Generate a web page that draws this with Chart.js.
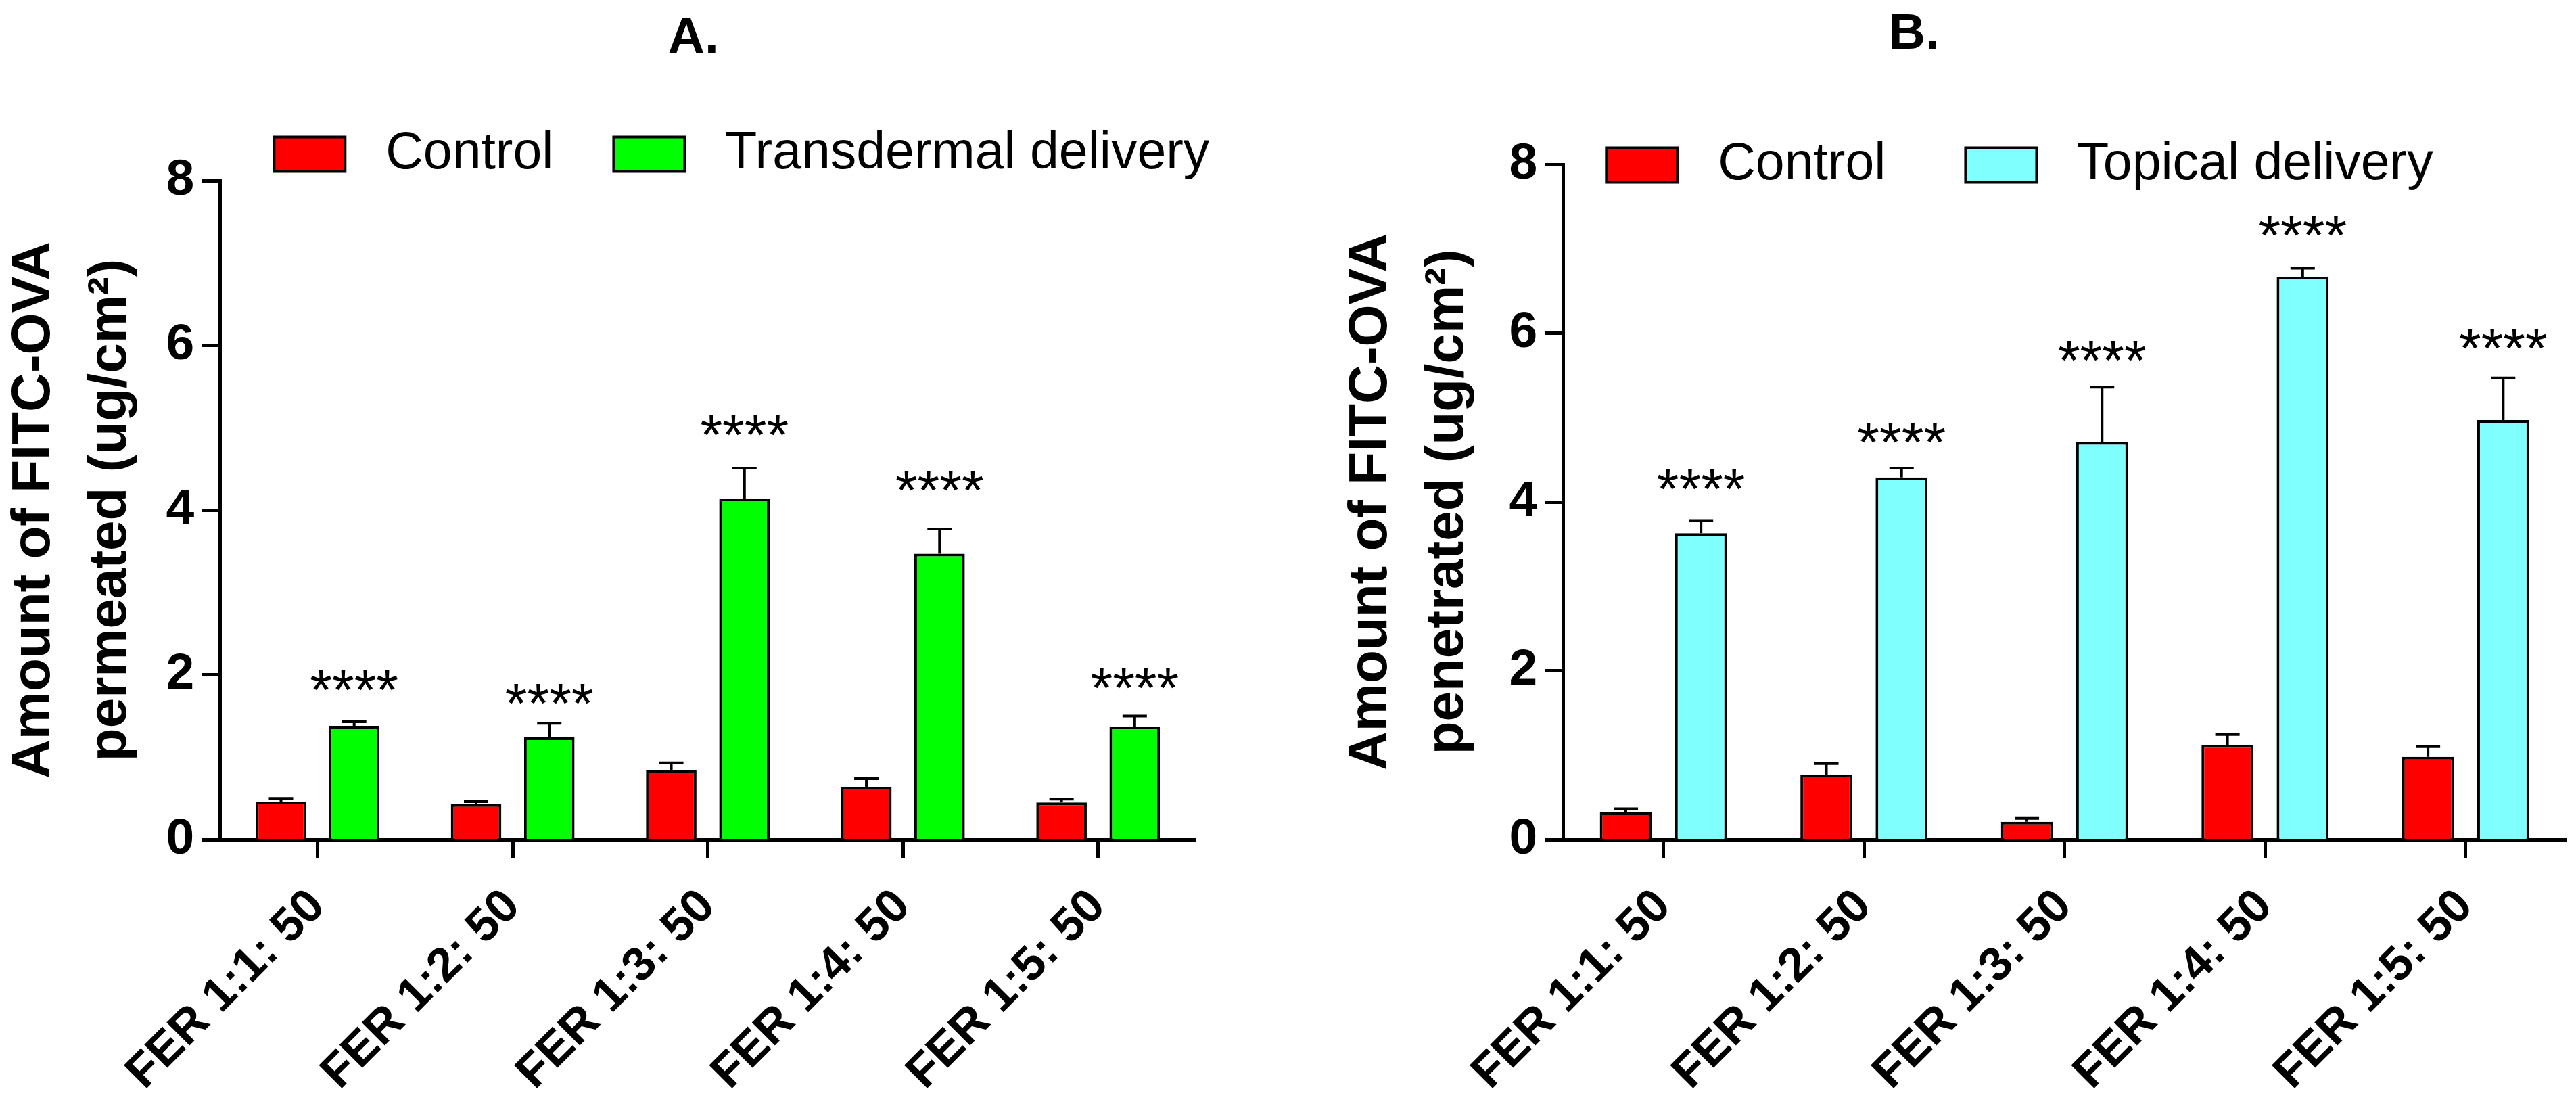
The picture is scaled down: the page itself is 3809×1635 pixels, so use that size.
<!DOCTYPE html>
<html>
<head>
<meta charset="utf-8">
<script src="https://cdn.jsdelivr.net/npm/chart.js@4.4.1/dist/chart.umd.min.js"></script>
<style>
  html, body { margin: 0; padding: 0; background: #fff; }
  #page { position: relative; width: 3809px; height: 1635px; overflow: hidden; background: #fff; }
  .panel { position: absolute; top: 0; height: 1672px; }
  #panelA { left: -5px; width: 2036px; }
  #panelB { left: 1831px; width: 1978px; }
</style>
</head>
<body>
<div id="page">
  <div class="panel" id="panelA"><canvas id="chartA"></canvas></div>
  <div class="panel" id="panelB"><canvas id="chartB"></canvas></div>
</div>
<script>
// values (ug/cm2)
const categories = ['FER 1:1: 50', 'FER 1:2: 50', 'FER 1:3: 50', 'FER 1:4: 50', 'FER 1:5: 50'];
const yTicks = [0, 2, 4, 6, 8];

// A. permeated
const controlA = [0.46, 0.43, 0.84, 0.64, 0.45];
const controlErrA = [0.04, 0.03, 0.09, 0.10, 0.04];
const transdermalA = [1.38, 1.24, 4.14, 3.47, 1.37];
const transdermalErrA = [0.05, 0.17, 0.37, 0.30, 0.13];
const starsA = [1.96, 1.80, 5.06, 4.39, 1.99];

// B. penetrated
const controlB = [0.32, 0.77, 0.21, 1.12, 0.98];
const controlErrB = [0.045, 0.13, 0.04, 0.125, 0.12];
const topicalB = [3.63, 4.29, 4.71, 6.67, 4.97];
const topicalErrB = [0.15, 0.11, 0.65, 0.10, 0.50];
const starsB = [4.30, 4.85, 5.82, 7.30, 5.96];

const FONT = '"Liberation Sans", Arial, Helvetica, sans-serif';
Chart.defaults.font.family = FONT;
Chart.defaults.color = '#000';

// upper error bars with a cap
const errorBars = {
  id: 'errorBars',
  afterDatasetsDraw(chart) {
    const { ctx, scales: { y } } = chart;
    ctx.save();
    ctx.strokeStyle = '#000';
    ctx.lineWidth = 4;
    chart.data.datasets.forEach((ds, di) => {
      chart.getDatasetMeta(di).data.forEach((bar, i) => {
        const top = y.getPixelForValue(ds.data[i] + ds.errors[i]);
        ctx.beginPath();
        ctx.moveTo(bar.x, bar.y);
        ctx.lineTo(bar.x, top);
        ctx.moveTo(bar.x - 18, top);
        ctx.lineTo(bar.x + 18, top);
        ctx.stroke();
      });
    });
    ctx.restore();
  }
};

// significance marks over the treated bars
const starMarks = {
  id: 'starMarks',
  afterDatasetsDraw(chart) {
    const { ctx, scales: { y } } = chart;
    const ds = chart.data.datasets[1];
    ctx.save();
    ctx.font = '84px ' + FONT;
    ctx.fillStyle = '#000';
    ctx.textAlign = 'center';
    ctx.textBaseline = 'alphabetic';
    chart.getDatasetMeta(1).data.forEach((bar, i) => {
      ctx.fillText('****', bar.x, y.getPixelForValue(ds.stars[i]) + 47);
    });
    ctx.restore();
  }
};

// move title and legend row to where Prism put them
const boxNudge = {
  id: 'boxNudge',
  afterLayout(chart, args, opts) {
    const area = chart.chartArea;
    const t = chart.titleBlock;
    const tw = t.right - t.left;
    const c = area.left + opts.titleX;
    t.left = c - tw / 2;
    t.right = c + tw / 2;

    const lg = chart.legend;
    const pad = lg.options.labels.padding;
    const w = lg.right - lg.left;
    lg.left = area.left + opts.legendX - pad;
    lg.right = lg.left + w;
    lg.top = opts.legendY - pad - opts.itemHeight / 2;
    lg.bottom = lg.top + pad + opts.itemHeight + 30;
  }
};

function makeChart(id, p) {
  return new Chart(document.getElementById(id), {
    type: 'bar',
    data: {
      labels: categories,
      datasets: [{
        label: 'Control',
        data: p.control,
        errors: p.controlErr,
        backgroundColor: '#ff0000',
        borderColor: '#000',
        borderWidth: 4,
        barPercentage: 0.69,
        categoryPercentage: 0.75
      }, {
        label: p.treatedName,
        data: p.treated,
        errors: p.treatedErr,
        stars: p.stars,
        backgroundColor: p.treatedColor,
        borderColor: '#000',
        borderWidth: 4,
        barPercentage: 0.69,
        categoryPercentage: 0.75
      }]
    },
    options: {
      responsive: true,
      maintainAspectRatio: false,
      animation: false,
      devicePixelRatio: 1,
      layout: { padding: { left: p.padLeft, right: p.padRight, top: 0, bottom: p.padBottom } },
      plugins: {
        tooltip: { enabled: false },
        title: {
          display: true,
          text: p.title,
          color: '#000',
          font: { size: 75, weight: 'bold', lineHeight: 1.2 },
          padding: { top: p.titleTop, bottom: 0 }
        },
        legend: {
          display: true,
          position: 'top',
          align: 'start',
          maxHeight: p.legendHeight,
          labels: {
            color: '#000',
            boxWidth: 105,
            boxHeight: 51,
            padding: p.legendPad,
            font: { size: 77 },
            generateLabels: chart => Chart.defaults.plugins.legend.labels.generateLabels(chart)
              .map(item => ({ ...item, text: ' ' + item.text }))
          }
        },
        boxNudge: { titleX: p.titleX, legendX: p.legendX, legendY: p.legendY, itemHeight: 77 }
      },
      scales: {
        x: {
          border: { display: true, color: '#000', width: 5 },
          grid: { display: true, offset: false, drawOnChartArea: false, tickLength: 28, tickWidth: 5, tickColor: '#000' },
          ticks: { color: '#000', autoSkip: false, minRotation: 45, maxRotation: 45, padding: 30,
                   font: { size: 70, weight: 'bold' } }
        },
        y: {
          min: 0,
          max: 8,
          afterBuildTicks: s => { s.ticks = yTicks.map(v => ({ value: v })); },
          border: { display: true, color: '#000', width: 5 },
          grid: { display: true, drawOnChartArea: false, tickLength: 27, tickWidth: 5, tickColor: '#000' },
          ticks: { color: '#000', padding: 11, font: { size: 75, weight: 'bold' } },
          title: {
            display: true,
            text: p.yTitle,
            color: '#000',
            font: { size: 80, weight: 'bold', lineHeight: 1.41 },
            padding: { top: 0, bottom: p.yTitlePad }
          }
        }
      }
    },
    plugins: [errorBars, starMarks, boxNudge]
  });
}

makeChart('chartA', {
  title: 'A.',
  yTitle: ['Amount of FITC-OVA', 'permeated (ug/cm\u00b2)'],
  control: controlA, controlErr: controlErrA,
  treated: transdermalA, treatedErr: transdermalErrA, stars: starsA,
  treatedName: 'Transdermal delivery', treatedColor: '#00ff00',
  padLeft: 0, padRight: 263, padBottom: 14,
  titleTop: 12, titleX: 700, legendHeight: 165, legendPad: 89, legendX: 80, legendY: 228,
  yTitlePad: 14
});

makeChart('chartB', {
  title: 'B.',
  yTitle: ['Amount of FITC-OVA', 'penetrated (ug/cm\u00b2)'],
  control: controlB, controlErr: controlErrB,
  treated: topicalB, treatedErr: topicalErrB, stars: starsB,
  treatedName: 'Topical delivery', treatedColor: '#80ffff',
  padLeft: 141, padRight: 15, padBottom: 14,
  titleTop: 6, titleX: 519, legendHeight: 147, legendPad: 118, legendX: 64, legendY: 244,
  yTitlePad: 23
});
</script>
</body>
</html>
